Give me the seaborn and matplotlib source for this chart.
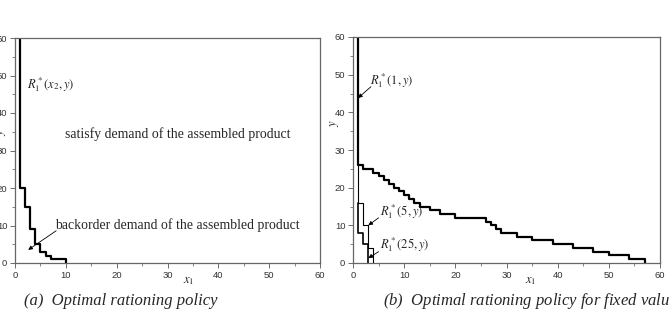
import matplotlib
matplotlib.use("Agg")
import matplotlib.pyplot as plt
import seaborn as sns
import pandas as pd
from matplotlib.ticker import MultipleLocator

# ---- data ----
# (a) optimal rationing policy R1*(x2, y): step points (x1, y)
a_x = [1, 1, 2, 3, 4, 5, 6, 7, 10]
a_y = [60, 20, 15, 9, 5, 3, 2, 1, 0]

# (b) R1*(1, y)
b1_x = [1, 1, 2, 4, 5, 6, 7, 8, 9, 10, 11, 12, 13, 15, 17, 20, 26, 27, 28, 29, 32, 35, 39, 43, 47, 50, 54, 57]
b1_y = [60, 26, 25, 24, 23, 22, 21, 20, 19, 18, 17, 16, 15, 14, 13, 12, 11, 10, 9, 8, 7, 6, 5, 4, 3, 2, 1, 0]
# R1*(5, y)
b5_x = [1, 1, 2, 3, 4]
b5_y = [26, 16, 10, 4, 0]
# R1*(25, y)
b25_x = [1, 1, 2, 3]
b25_y = [16, 8, 5, 0]

x_ticks = [0, 10, 20, 30, 40, 50, 60]
y_ticks = [0, 10, 20, 30, 40, 50, 60]

text_a_top = "satisfy demand of the assembled product"
text_a_bot = "backorder demand of the assembled product"
caption_a = "(a)  Optimal rationing policy"
caption_b = "(b)  Optimal rationing policy for fixed values of $x_2$"

# ---- style ----
sns.set_style("ticks")
plt.rcParams["font.family"] = ["Liberation Sans", "DejaVu Sans"]
plt.rcParams["mathtext.fontset"] = "stix"

W, H = 669, 309
fig = plt.figure(figsize=(W / 100, H / 100), dpi=100)

def px_axes(x0, x1, ytop, ybot):
    return fig.add_axes([x0 / W, (H - ybot) / H, (x1 - x0) / W, (ybot - ytop) / H])

ax_a = px_axes(15, 320, 38, 263)
ax_b = px_axes(353, 660, 37, 263)

serif = "Liberation Serif"
arrow = dict(arrowstyle="-|>", color="black", lw=0.6, mutation_scale=6, shrinkA=0, shrinkB=0)

for ax in (ax_a, ax_b):
    ax.set_xlim(0, 60)
    ax.set_ylim(0, 60)
    ax.set_xticks(x_ticks)
    ax.set_yticks(y_ticks)
    ax.xaxis.set_minor_locator(MultipleLocator(5))
    ax.yaxis.set_minor_locator(MultipleLocator(5))
    ax.tick_params(which="major", length=3.5, width=0.6, color="#555555",
                   labelsize=6.8, labelcolor="#333333", pad=2)
    ax.tick_params(which="minor", length=2, width=0.5, color="#555555")
    for s in ax.spines.values():
        s.set_color("#666666")
        s.set_linewidth(0.9)
        s.set_visible(True)

# panel (a)
df_a = pd.DataFrame({"x": a_x, "y": a_y})
sns.lineplot(data=df_a, x="x", y="y", ax=ax_a, drawstyle="steps-post",
             estimator=None, sort=False, color="black", lw=1.6)
ax_a.set_xlabel(""); ax_a.set_ylabel("")
ax_a.text(2.3, 47.5, r"$R_1^*(x_2, y)$", fontsize=9, va="center", ha="left")
ax_a.text(9.8, 34.5, text_a_top, fontsize=9.9, family=serif, va="center")
ax_a.text(7.9, 10.0, text_a_bot, fontsize=9.9, family=serif, va="center")
ax_a.annotate("", xy=(2.6, 3.5), xytext=(8.1, 8.6), arrowprops=arrow)
ax_a.text(0.57, -0.08, r"$x_1$", transform=ax_a.transAxes, fontsize=9, ha="center", va="center")
ax_a.text(-0.043, 0.58, r"$y$", transform=ax_a.transAxes, fontsize=9, rotation=90,
          ha="center", va="center")

# panel (b)
for xs, ys, lw in ((b1_x, b1_y, 1.6), (b5_x, b5_y, 0.8), (b25_x, b25_y, 1.2)):
    d = pd.DataFrame({"x": xs, "y": ys})
    sns.lineplot(data=d, x="x", y="y", ax=ax_b, drawstyle="steps-post",
                 estimator=None, sort=False, color="black", lw=lw)
ax_b.set_xlabel(""); ax_b.set_ylabel("")
ax_b.text(3.3, 48.5, r"$R_1^*\left(1, y\right)$", fontsize=9, va="center")
ax_b.annotate("", xy=(1.0, 43.8), xytext=(3.5, 46.8), arrowprops=arrow)
ax_b.text(5.2, 13.7, r"$R_1^*\left(5, y\right)$", fontsize=9, va="center")
ax_b.annotate("", xy=(3.0, 10.0), xytext=(5.0, 12.0), arrowprops=arrow)
ax_b.text(5.2, 4.9, r"$R_1^*\left(25, y\right)$", fontsize=9, va="center")
ax_b.annotate("", xy=(3.0, 1.3), xytext=(5.0, 3.0), arrowprops=arrow)
ax_b.text(0.58, -0.08, r"$x_1$", transform=ax_b.transAxes, fontsize=9, ha="center", va="center")
ax_b.text(-0.06, 0.62, r"$y$", transform=ax_b.transAxes, fontsize=9, rotation=90,
          ha="center", va="center")

# captions
fig.text(24 / W, (H - 305) / H, caption_a, fontsize=12, family=serif, style="italic",
         va="baseline", ha="left")
fig.text(383 / W, (H - 305) / H, caption_b, fontsize=12, family=serif, style="italic",
         va="baseline", ha="left")

fig.savefig("out.png", dpi=100)
